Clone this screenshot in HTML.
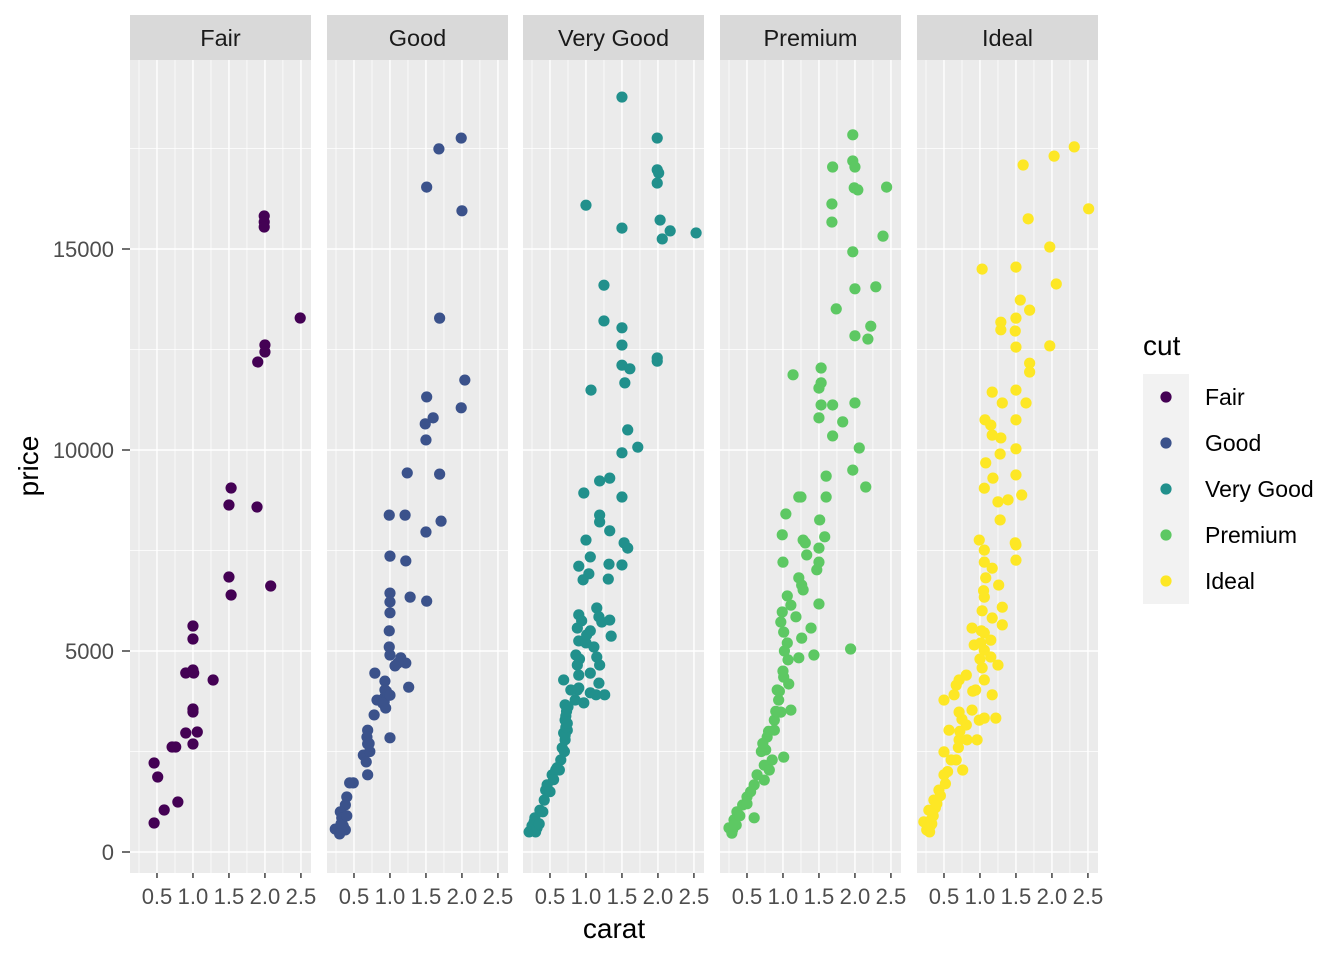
<!DOCTYPE html>
<html><head><meta charset="utf-8"><style>
body{margin:0;background:#fff;}
svg text{font-family:"Liberation Sans",sans-serif;}
</style></head><body>
<svg id="chart" width="1344" height="960" xmlns="http://www.w3.org/2000/svg">
<rect width="1344" height="960" fill="#fff"/>
<g id="panels"></g>
<g id="legend"></g>
</svg>
<script>
const cuts = ["Fair","Good","Very Good","Premium","Ideal"];
const colors = ["#440154","#3B528B","#21908C","#5DC863","#FDE725"];
const yTicks = [0,5000,10000,15000];
const yMinor = [2500,7500,12500,17500];
const xTicks = [0.5,1.0,1.5,2.0,2.5];
const xTickLabels = ["0.5","1.0","1.5","2.0","2.5"];
const xMinor = [0.25,0.75,1.25,1.75,2.25];

const fairCarat = [0.46,0.51,0.60,0.46,0.71,0.76,0.79,0.90,0.90,1.00,1.00,1.00,1.01,1.00,1.00,1.06,1.00,1.28,1.50,1.50,1.53,1.53,1.89,1.90,2.00,2.00,1.99,1.99,1.99,2.08,2.49];
const fairPrice = [2214,1866,1045,721,2612,2612,1244,4453,2960,5622,5299,4527,4453,3557,3483,2985,2687,4279,8632,6841,9055,6393,8582,12189,12612,12438,15821,15672,15547,6617,13284];

const goodCarat = [1.99,1.68,1.51,2.00,1.69,2.04,1.99,1.51,1.60,1.49,1.50,1.24,1.69,0.99,1.21,1.71,1.50,1.00,1.22,1.28,1.51,1.00,1.00,1.00,0.99,0.99,1.00,1.15,1.22,1.11,1.07,0.79,1.26,0.93,0.93,0.93,0.92,0.94,1.00,0.82,0.78,0.69,0.68,0.69,0.63,0.67,0.69,0.49,0.44,0.40,0.38,0.31,0.33,0.31,0.24,0.31,0.38,0.35,0.32,0.35,0.40,0.30,0.72,0.71,0.90,0.95,1.00];
const goodPrice = [17760,17490,16540,15950,13280,11740,11050,11320,10800,10650,10250,9430,9400,8380,8380,8230,7960,7360,7240,6340,6240,6440,6220,5950,5500,5100,4900,4830,4700,4700,4630,4450,4100,4250,4030,3860,3730,3580,2840,3780,3410,3030,2860,2690,2410,2240,1920,1720,1720,1370,1170,1000,850,600,570,500,550,850,700,650,900,450,2500,2700,3700,4000,3900];

const vgCarat = [1.50,1.99,1.99,2.01,1.99,2.03,2.17,2.06,2.53,1.50,1.00,1.25,1.50,1.25,1.50,1.07,1.50,1.61,1.54,1.99,1.99,1.58,1.72,1.50,1.33,1.19,0.97,1.19,1.19,1.33,1.00,1.06,1.50,1.32,0.90,1.04,1.31,0.96,1.53,1.58,1.50,0.90,0.88,0.94,1.15,1.18,1.22,1.33,1.35,1.06,0.90,1.11,1.15,1.19,0.88,1.06,0.90,1.18,1.06,1.26,1.14,0.97,0.88,0.85,0.75,0.72,0.74,0.71,0.67,0.65,0.63,0.53,0.44,0.42,0.36,0.29,0.25,0.21,0.28,0.46,0.58,0.69,0.69,0.86,0.79,0.71,0.71,0.30,0.32,0.35,0.40,0.50,0.55,0.60,0.70,0.71,0.72,0.73,0.74,0.90,0.91,1.00,1.01];
const vgPrice = [18780,17760,16970,16890,16640,15720,15450,15250,15400,15520,16090,14100,13040,13210,12610,11490,12110,12020,11670,12290,12210,10500,10070,9930,9300,9230,8930,8380,8210,7990,7760,7340,7140,7160,7110,6920,6790,6770,7690,7560,8830,5900,5570,5750,6070,5850,5720,5770,5370,5500,5250,5100,4850,4650,4650,4450,4080,4200,3960,3910,3910,3710,4030,3780,3610,3380,3030,2790,2590,2290,2040,1920,1540,1290,1040,850,650,500,750,1670,2040,2960,4280,4900,4030,3660,3280,500,600,700,1000,1500,1800,2100,2500,2900,3100,3500,3200,4400,4800,5200,5400];

const premCarat = [1.97,1.69,1.97,2.00,1.68,1.99,2.04,2.44,1.68,1.97,2.39,2.00,2.29,1.74,2.22,2.00,2.18,1.14,1.53,1.53,1.50,1.53,1.69,1.50,1.69,1.83,2.00,2.06,2.15,1.97,1.60,1.60,1.22,1.25,1.04,0.99,1.51,1.58,1.50,1.28,1.31,1.50,1.47,1.33,1.22,1.26,1.50,1.28,1.00,1.06,1.11,0.99,0.97,1.18,1.39,1.01,1.06,1.26,1.43,1.22,1.07,1.94,1.01,1.08,0.92,0.94,0.97,1.11,0.88,0.88,1.01,0.78,0.76,0.74,0.64,0.60,0.50,0.44,0.36,0.32,0.25,0.29,0.35,0.60,0.74,0.81,0.85,0.30,0.33,0.40,0.50,0.55,0.70,0.72,0.80,0.90,0.95,1.00,1.02];
const premPrice = [17840,17040,17190,17040,16120,16520,16470,16540,15670,14930,15320,14010,14060,13510,13080,12840,12760,11870,12040,11670,11540,11120,11120,10800,10350,10700,11170,10050,9080,9500,9350,8830,8830,8830,8410,7890,8260,7840,7560,7760,7690,7210,7020,7390,6820,6640,6170,6520,7210,6370,6140,5970,5720,5850,5570,5470,5200,5320,4900,4830,4780,5050,4350,4180,4030,3780,3480,3530,3280,3030,2360,2860,2540,2160,1920,1670,1370,1170,1000,800,600,470,670,850,1790,2040,2290,550,700,900,1200,1500,2500,2700,3000,3500,4000,4500,5000];

const idealCarat = [2.31,2.03,1.60,2.51,1.67,1.97,1.50,2.06,1.03,1.56,1.69,1.29,1.29,1.50,1.49,1.50,1.97,1.69,1.69,1.17,1.50,1.64,1.31,1.07,1.50,1.15,1.29,1.17,1.50,1.28,1.50,1.58,1.08,1.18,1.06,1.25,1.39,1.28,0.99,1.49,1.50,1.50,1.06,1.06,1.17,1.08,1.26,1.06,1.31,1.17,1.31,0.89,1.06,1.15,0.92,1.06,1.15,1.25,1.03,0.81,0.64,1.17,0.71,0.82,0.96,0.76,0.67,0.50,0.57,0.50,0.67,1.22,1.06,0.71,0.43,0.36,0.29,0.22,0.26,0.32,0.50,0.60,0.71,0.81,0.89,0.94,1.06,0.99,0.30,0.31,0.33,0.35,0.38,0.40,0.45,0.52,0.55,0.70,0.72,0.75,0.90,1.00,1.01,1.02,1.03,1.05];
const idealPrice = [17540,17310,17090,16000,15750,15050,14550,14130,14500,13730,13480,13180,12990,13280,12960,12560,12590,12160,11940,11440,11490,11170,11170,10750,10750,10620,10300,10370,10030,9900,9380,8880,9680,9300,9050,8710,8760,8260,7760,7690,7260,7640,7510,7210,7060,6820,6640,6340,6090,5820,5650,5570,5450,5270,5150,5020,4850,4650,4580,4400,3910,3910,3480,2790,2790,2040,2290,2490,3030,3780,4150,3330,3330,4280,1540,1290,1040,750,550,800,1920,2290,2790,3160,3530,4030,4280,3280,500,650,700,900,1100,1200,1400,1700,2000,2600,3000,3300,4000,4800,5200,5500,6000,6500];

const caratSeries = [fairCarat, goodCarat, vgCarat, premCarat, idealCarat];
const priceSeries = [fairPrice, goodPrice, vgPrice, premPrice, idealPrice];

const NS = "http://www.w3.org/2000/svg";
const panelLefts = [130,327,523,720,917];
const panelW = 181, panelTop = 60, panelBot = 873;
const xMin = 0.125, xMax = 2.64;
function xScale(i, c){ return panelLefts[i] + (c - xMin) / (xMax - xMin) * panelW; }
function yScale(p){ return 852 - p * 0.0402; }
function mk(tag, attrs, parent){ const e = document.createElementNS(NS, tag); for (const k in attrs) e.setAttribute(k, attrs[k]); parent.appendChild(e); return e; }

const panels = document.getElementById("panels");
for (let i = 0; i < cuts.length; i++) {
  const L = panelLefts[i];
  const g = mk("g", {}, panels);
  
  
  mk("rect", {x:L, y:panelTop, width:panelW, height:panelBot-panelTop, fill:"#EBEBEB"}, g);
  yMinor.forEach(v => mk("line", {x1:L, x2:L+panelW, y1:yScale(v), y2:yScale(v), stroke:"#fff", "stroke-width":0.7}, g));
  xMinor.forEach(v => mk("line", {x1:xScale(i,v), x2:xScale(i,v), y1:panelTop, y2:panelBot, stroke:"#fff", "stroke-width":0.7}, g));
  yTicks.forEach(v => mk("line", {x1:L, x2:L+panelW, y1:yScale(v), y2:yScale(v), stroke:"#fff", "stroke-width":1.4}, g));
  xTicks.forEach((v, k) => {
    mk("line", {x1:xScale(i,v), x2:xScale(i,v), y1:panelTop, y2:panelBot, stroke:"#fff", "stroke-width":1.4}, g);
    mk("line", {x1:xScale(i,v), x2:xScale(i,v), y1:panelBot, y2:panelBot+5, stroke:"#333", "stroke-width":1.4}, g);
    const t = mk("text", {x:xScale(i,v), y:904, "text-anchor":"middle", "font-size":"22", fill:"#4D4D4D"}, g);
    
    
    t.textContent = xTickLabels[k];
  });
  const s = mk("rect", {x:L, y:15, width:panelW, height:45, fill:"#D9D9D9"}, g);
  
  
  const st = mk("text", {x:L+panelW/2, y:46, "text-anchor":"middle", "font-size":"23.5", fill:"#1A1A1A"}, g);
  
  
  st.textContent = cuts[i];
  const cs = caratSeries[i], ps = priceSeries[i];
  for (let j = 0; j < cs.length; j++) {
    const c = mk("circle", {cx:xScale(i, cs[j]), cy:yScale(ps[j]), r:5.6, fill:colors[i]}, g);
    
    
  }
}
const yax = mk("g", {}, panels);


yTicks.forEach(v => {
  mk("line", {x1:122, x2:130, y1:yScale(v), y2:yScale(v), stroke:"#333", "stroke-width":1.4}, yax);
  const t = mk("text", {x:114, y:yScale(v)+8, "text-anchor":"end", "font-size":"22", fill:"#4D4D4D"}, yax);
  
  
  t.textContent = String(v);
});
const yt = mk("text", {x:0, y:0, transform:"translate(38,466) rotate(-90)", "text-anchor":"middle", "font-size":"28", fill:"#000"}, panels);


yt.textContent = "price";
const xt = mk("text", {x:614, y:938, "text-anchor":"middle", "font-size":"28", fill:"#000"}, panels);


xt.textContent = "carat";

const lg = document.getElementById("legend");


const lt = mk("text", {x:1143, y:355, "font-size":"28", fill:"#000"}, lg);


lt.textContent = "cut";
cuts.forEach((c, k) => {
  const y0 = 374 + k*46;
  const e = mk("g", {}, lg);
  
  
  mk("rect", {x:1143, y:y0, width:46, height:46, fill:"#F2F2F2"}, e);
  mk("circle", {cx:1166, cy:y0+23, r:5.6, fill:colors[k]}, e);
  const t = mk("text", {x:1205, y:y0+31, "font-size":"23", fill:"#000"}, e);
  t.textContent = c;
});
</script>
</body></html>
